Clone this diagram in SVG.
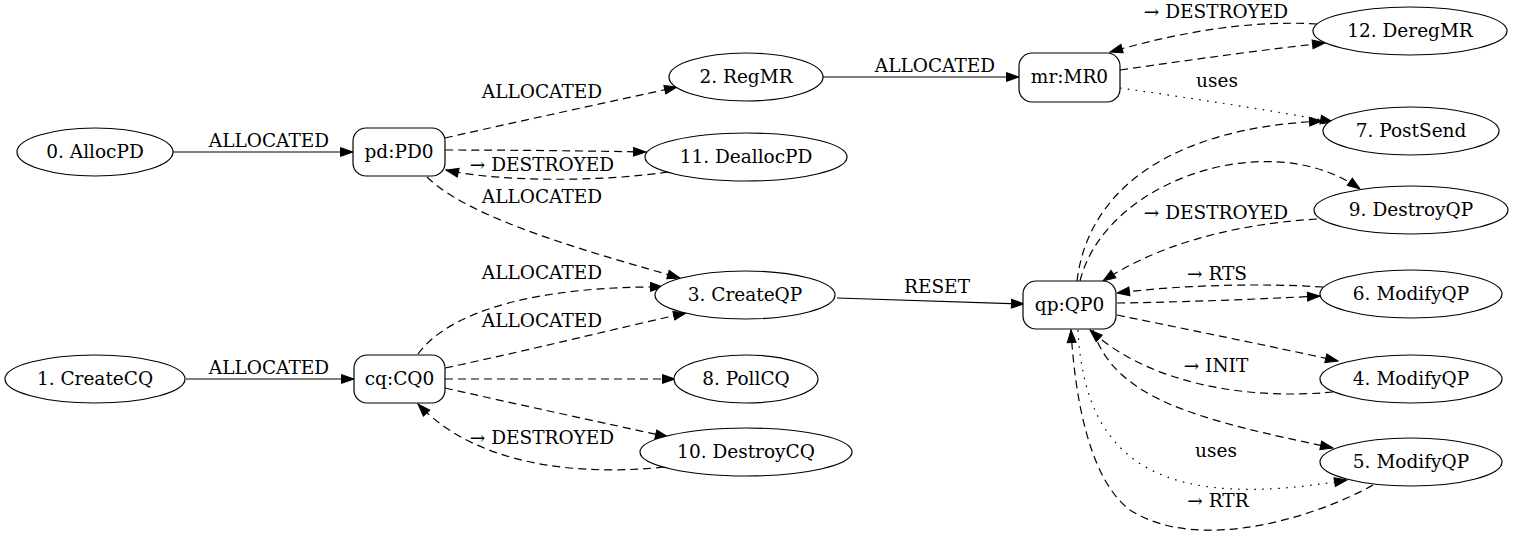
<svg xmlns="http://www.w3.org/2000/svg" width="1514" height="539" viewBox="0 0 1514 539">
<style>
text{font-family:"DejaVu Serif","Liberation Serif",serif;font-size:18.5px;fill:#000;text-anchor:middle}
.n{fill:#fff;stroke:#000;stroke-width:1.2}
.e{fill:none;stroke:#000;stroke-width:1.2;marker-end:url(#ah)}
.d{stroke-dasharray:8,5}
.t{stroke-dasharray:1.6,6.4}
</style>
<defs>
<marker id="ah" markerUnits="userSpaceOnUse" markerWidth="16" markerHeight="12" refX="13" refY="4.7" orient="auto" overflow="visible">
<path d="M0.5,0.3 L13,4.7 L0.5,9.1 z" fill="#000" stroke="#000" stroke-width="1"/>
</marker>
</defs>
<rect width="1514" height="539" fill="#fff"/>
<g id="connectors">
<path class="e" d="M173,152 L353,152"/>
<path class="e" d="M186,379 L354,379"/>
<path class="e d" d="M445,138 C520,121 600,104 677,87"/>
<path class="e d" d="M445,150 C520,150 590,151 646,152"/>
<path class="e d" d="M668,172 C600,182 500,182 446,170"/>
<path class="e d" d="M427,177 C470,220 600,255 680,278"/>
<path class="e d" d="M418,354 C450,310 540,286 663,287"/>
<path class="e d" d="M445,368 C530,350 610,330 686,313"/>
<path class="e d" d="M445,379 L675,379"/>
<path class="e d" d="M445,388 C520,405 600,422 668,437"/>
<path class="e d" d="M664,467 C590,475 480,470 418,404"/>
<path class="e" d="M823,77 L1019,77"/>
<path class="e" d="M837,298 L1024,304"/>
<path class="e d" d="M1120,70 C1190,60 1260,50 1325,43"/>
<path class="e d" d="M1317,24 C1250,20 1180,32 1110,52"/>
<path class="e t" d="M1120,88 C1190,98 1270,110 1333,122"/>
<path class="e d" d="M1077,281 C1088,190 1170,128 1322,121"/>
<path class="e d" d="M1080,281 C1105,180 1270,125 1360,189"/>
<path class="e d" d="M1317,219 C1220,225 1150,250 1103,281"/>
<path class="e d" d="M1323,287 C1260,283 1180,285 1117,293"/>
<path class="e d" d="M1117,303 C1190,302 1260,299 1320,296"/>
<path class="e d" d="M1117,315 C1190,330 1270,346 1338,361"/>
<path class="e d" d="M1333,392 C1250,400 1150,385 1090,330"/>
<path class="e d" d="M1093,330 C1115,400 1200,420 1333,448"/>
<path class="e t" d="M1078,330 C1085,470 1170,510 1347,480"/>
<path class="e d" d="M1373,485 C1320,515 1200,555 1130,510 C1090,480 1075,400 1071,330"/>
<text x="269" y="147">ALLOCATED</text>
<text x="269" y="374">ALLOCATED</text>
<text x="542" y="98">ALLOCATED</text>
<text x="542" y="171">→ DESTROYED</text>
<text x="542" y="203">ALLOCATED</text>
<text x="542" y="279">ALLOCATED</text>
<text x="542" y="327">ALLOCATED</text>
<text x="542" y="444">→ DESTROYED</text>
<text x="935" y="72">ALLOCATED</text>
<text x="937" y="293">RESET</text>
<text x="1216" y="18">→ DESTROYED</text>
<text x="1217" y="87">uses</text>
<text x="1216" y="219">→ DESTROYED</text>
<text x="1217" y="280">→ RTS</text>
<text x="1216" y="372">→ INIT</text>
<text x="1216" y="457">uses</text>
<text x="1218" y="507">→ RTR</text>
</g>
<g id="n0"><ellipse class="n" cx="95" cy="152" rx="78" ry="24"/><text x="95" y="158">0. AllocPD</text></g>
<g id="n1"><ellipse class="n" cx="95" cy="379" rx="90" ry="24"/><text x="95" y="385">1. CreateCQ</text></g>
<g id="pd"><rect class="n" x="353" y="128" width="92" height="48" rx="13"/><text x="399" y="158">pd:PD0</text></g>
<g id="cq"><rect class="n" x="354" y="355" width="91" height="48" rx="13"/><text x="399.5" y="385">cq:CQ0</text></g>
<g id="n2"><ellipse class="n" cx="746" cy="77" rx="77" ry="24"/><text x="746" y="83">2. RegMR</text></g>
<g id="n11"><ellipse class="n" cx="746" cy="157" rx="101" ry="24"/><text x="746" y="163">11. DeallocPD</text></g>
<g id="n3"><ellipse class="n" cx="745" cy="295" rx="90" ry="24"/><text x="745" y="301">3. CreateQP</text></g>
<g id="n8"><ellipse class="n" cx="746" cy="379" rx="72" ry="24"/><text x="746" y="385">8. PollCQ</text></g>
<g id="n10"><ellipse class="n" cx="746" cy="452" rx="106" ry="24"/><text x="746" y="458">10. DestroyCQ</text></g>
<g id="mr"><rect class="n" x="1019" y="53" width="101" height="49" rx="13"/><text x="1069.5" y="83">mr:MR0</text></g>
<g id="qp"><rect class="n" x="1023" y="281" width="93" height="48" rx="13"/><text x="1069.5" y="311">qp:QP0</text></g>
<g id="n12"><ellipse class="n" cx="1410" cy="31" rx="97" ry="24"/><text x="1410" y="37">12. DeregMR</text></g>
<g id="n7"><ellipse class="n" cx="1411" cy="131" rx="88" ry="24"/><text x="1411" y="137">7. PostSend</text></g>
<g id="n9"><ellipse class="n" cx="1411" cy="210" rx="97" ry="24"/><text x="1411" y="216">9. DestroyQP</text></g>
<g id="n6"><ellipse class="n" cx="1411" cy="294" rx="91" ry="24"/><text x="1411" y="300">6. ModifyQP</text></g>
<g id="n4"><ellipse class="n" cx="1411" cy="379" rx="91" ry="24"/><text x="1411" y="385">4. ModifyQP</text></g>
<g id="n5"><ellipse class="n" cx="1411" cy="462" rx="91" ry="24"/><text x="1411" y="468">5. ModifyQP</text></g>
</svg>
